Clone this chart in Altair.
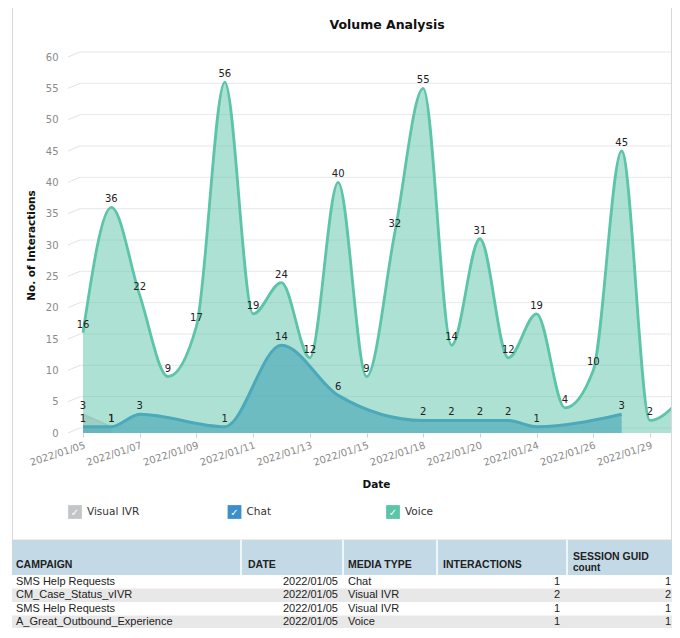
import json
import altair as alt
import pandas as pd

# ---------------- data ----------------
dates = ['2022/01/05', '2022/01/06', '2022/01/07', '2022/01/08', '2022/01/09',
         '2022/01/10', '2022/01/11', '2022/01/12', '2022/01/13', '2022/01/14',
         '2022/01/15', '2022/01/17', '2022/01/18', '2022/01/19', '2022/01/20',
         '2022/01/21', '2022/01/24', '2022/01/25', '2022/01/26', '2022/01/27',
         '2022/01/29', '2022/01/31']
voice = [16, 36, 22, 9, 17, 56, 19, 24, 12, 40, 9, 32, 55, 14, 31, 12, 19, 4, 10, 45, 2, 5]

chat_dates = ['2022/01/05', '2022/01/06', '2022/01/07', '2022/01/10', '2022/01/12',
              '2022/01/14', '2022/01/18', '2022/01/19', '2022/01/20', '2022/01/21',
              '2022/01/24', '2022/01/27']
chat = [1, 1, 3, 1, 14, 6, 2, 2, 2, 2, 1, 3]

ivr_dates = ['2022/01/05', '2022/01/06']
ivr = [3, 1]

label_dates = ['2022/01/05', '2022/01/07', '2022/01/09', '2022/01/11', '2022/01/13',
               '2022/01/15', '2022/01/18', '2022/01/20', '2022/01/24', '2022/01/26',
               '2022/01/29']
y_ticks = [0, 5, 10, 15, 20, 25, 30, 35, 40, 45, 50, 55, 60]

series = ['Visual IVR', 'Chat', 'Voice']
series_colors = ['#c3c6c9', '#3b8fca', '#5cc4a8']

tbl_campaign = ['SMS Help Requests', 'CM_Case_Status_vIVR', 'SMS Help Requests',
                'A_Great_Outbound_Experience']
tbl_date = ['2022/01/05', '2022/01/05', '2022/01/05', '2022/01/05']
tbl_media = ['Chat', 'Visual IVR', 'Visual IVR', 'Voice']
tbl_interactions = [1, 2, 1, 1]
tbl_sessions = [1, 2, 1, 1]
tbl_headers = ['CAMPAIGN', 'DATE', 'MEDIA TYPE', 'INTERACTIONS', 'SESSION GUID']

# ---------------- layout ----------------
W, H = 592, 376
FONT = 'DejaVu Sans'
TFONT = "'Liberation Sans', Arial, sans-serif"

voice_df = pd.DataFrame({'i': list(range(len(dates))), 'v': voice})
chat_df = pd.DataFrame({'i': [dates.index(d) for d in chat_dates], 'v': chat})
ivr_df = pd.DataFrame({'i': [dates.index(d) for d in ivr_dates], 'v': ivr})
grid_df = pd.DataFrame({'i': [0] * len(y_ticks), 'v': y_ticks})

xscale = alt.Scale(domain=[-0.106, 20.776], nice=False, zero=False)
yscale = alt.Scale(domain=[0, 60], nice=False, zero=False)

label_expr = json.dumps(dates) + '[datum.value]'
x_axis = alt.Axis(values=[dates.index(d) for d in label_dates], labelExpr=label_expr,
                  labelAngle=342, labelAlign='right', labelBaseline='top',
                  labelOverlap=False, labelFlush=False,
                  labelColor='#8a8a8a', labelFont=FONT, labelFontSize=10,
                  labelPadding=3, tickSize=4, tickColor='#cccccc', domain=False,
                  grid=False, title='Date', titleFont=FONT, titleFontSize=10.5,
                  titleFontWeight='bold', titleColor='#111', titlePadding=12)
y_axis = alt.Axis(values=y_ticks, labelColor='#8a8a8a', labelFont=FONT, labelFontSize=10,
                  labelPadding=22, ticks=False, domain=False, grid=False,
                  labelOverlap=False,
                  title='No. of Interactions', titleFont=FONT, titleFontSize=10.5,
                  titleFontWeight='bold', titleColor='#111', titlePadding=9)

X = alt.X('i:Q', scale=xscale, axis=x_axis)
Y = alt.Y('v:Q', scale=yscale, axis=y_axis)

grid = alt.Chart(grid_df).mark_rule(color='#e8e8e8', yOffset=-5).encode(
    x=alt.value(0), x2=alt.value(W), y=Y)
slant = alt.Chart(grid_df).mark_rule(color='#e2e2e2', y2Offset=-5).encode(
    x=alt.value(-12), x2=alt.value(0), y=Y, y2=alt.Y2('v:Q'))

def area_layers(df, color, fill_op, line_op, sw):
    a = alt.Chart(df).mark_area(interpolate='monotone', color=color, opacity=fill_op,
                                clip=True).encode(x=X, y=Y)
    l = alt.Chart(df).mark_line(interpolate='monotone', color=color, opacity=line_op,
                                strokeWidth=sw, clip=True).encode(x=X, y=Y)
    return [a, l]

ivr_l = area_layers(ivr_df, '#b9bcbf', 0.5, 0.5, 2)
chat_l = area_layers(chat_df, series_colors[1], 0.66, 1.0, 3)
voice_l = area_layers(voice_df, series_colors[2], 0.5, 1.0, 2.8)

def labels(df):
    return alt.Chart(df).transform_filter('datum.i <= 20').mark_text(
        font=FONT, fontSize=10, color='#222', baseline='middle', dy=-8).encode(
        x=X, y=Y, text='v:Q')

one = alt.Data(values=[{}])

title = alt.Chart(one).mark_text(text='Volume Analysis', font=FONT, fontSize=12.5,
                                 fontWeight='bold', color='#111').encode(
    x=alt.value(307), y=alt.value(-32))

# table / legend layout (plot-relative pixels)
LEG_Y = 455
HDR_T, HDR_B = 483, 518
ROW0, RH = 518, 13.5

panel = alt.Chart(one).mark_rect(fillOpacity=0, stroke='#d8d8d8', strokeWidth=1).encode(
    x=alt.value(-67.5), x2=alt.value(591.5), y=alt.value(-52), y2=alt.value(HDR_T))

# legend
leg_df = pd.DataFrame({'name': series, 'c': series_colors, 'lx': [-5, 154.5, 313]})
leg_box = alt.Chart(leg_df).mark_square(size=190, opacity=1).encode(
    x=alt.X('lx:Q', scale=None), y=alt.value(LEG_Y),
    color=alt.Color('c:N', scale=None))
leg_chk = alt.Chart(leg_df).mark_text(text='✓', font=FONT, fontSize=10, color='white',
                                      baseline='middle').encode(
    x=alt.X('lx:Q', scale=None), y=alt.value(LEG_Y + 0.5))
leg_txt = alt.Chart(leg_df).mark_text(font=FONT, fontSize=10.5, color='#333', align='left',
                                      baseline='middle', dx=12).encode(
    x=alt.X('lx:Q', scale=None), y=alt.value(LEG_Y), text='name:N')

# table
tbl_df = pd.DataFrame({'row': list(range(len(tbl_campaign))), 'campaign': tbl_campaign,
                       'date': tbl_date, 'media': tbl_media,
                       'inter': tbl_interactions, 'sess': tbl_sessions})
tbase = alt.Chart(tbl_df).transform_calculate(
    ty=f'{ROW0} + {RH} * datum.row + {RH / 2}',
    rt=f'{ROW0} + {RH} * datum.row', rb=f'{ROW0} + {RH} * (datum.row + 1)')
row_bg = tbase.transform_filter('datum.row % 2 == 1').mark_rect(color='#e8e8e8').encode(
    x=alt.value(-68), x2=alt.value(600),
    y=alt.Y('rt:Q', scale=None), y2=alt.Y2('rb:Q'))

def col_text(field, px, align):
    return tbase.mark_text(font=TFONT, fontSize=11, color='#222', align=align,
                           baseline='middle').encode(
        x=alt.value(px), y=alt.Y('ty:Q', scale=None), text=f'{field}:N')

hdr_bg = alt.Chart(one).mark_rect(color='#c3dae6').encode(
    x=alt.value(-68), x2=alt.value(600), y=alt.value(HDR_T), y2=alt.value(HDR_B))
sep_df = pd.DataFrame({'sx': [161, 263, 357, 487]})
hdr_sep = alt.Chart(sep_df).mark_rule(color='white', strokeWidth=1.5).encode(
    x=alt.X('sx:Q', scale=None), y=alt.value(HDR_T), y2=alt.value(HDR_B))
hdr_df = pd.DataFrame({'h': tbl_headers, 'hx': [-64, 168, 268, 363, 493],
                       'hy': [HDR_B - 10] * 4 + [HDR_B - 18]})
hdr_txt = alt.Chart(hdr_df).mark_text(font=TFONT, fontSize=10.5, fontWeight='bold',
                                      color='#222', align='left', baseline='middle').encode(
    x=alt.X('hx:Q', scale=None), y=alt.Y('hy:Q', scale=None), text='h:N')
hdr_count = alt.Chart(one).mark_text(text='count', font=TFONT, fontSize=10,
                                     fontWeight='bold', color='#222', align='left',
                                     baseline='middle').encode(
    x=alt.value(493), y=alt.value(HDR_B - 7))

layers = [grid, slant] + ivr_l + chat_l + voice_l + [
    labels(ivr_df), labels(chat_df), labels(voice_df),
    title, panel, leg_box, leg_chk, leg_txt,
    hdr_bg, hdr_sep, hdr_txt, hdr_count, row_bg,
    col_text('campaign', -64, 'left'), col_text('date', 258, 'right'),
    col_text('media', 268, 'left'), col_text('inter', 480, 'right'),
    col_text('sess', 591, 'right'),
]

chart = alt.layer(*layers).properties(
    width=W, height=H,
    padding={'left': 72, 'top': 49, 'right': 0, 'bottom': 195},
    autosize=alt.AutoSizeParams(type='none'),
).configure(background='white').configure_view(stroke=None)

chart.save('out.html', embed_options={'renderer': 'svg', 'actions': False})
